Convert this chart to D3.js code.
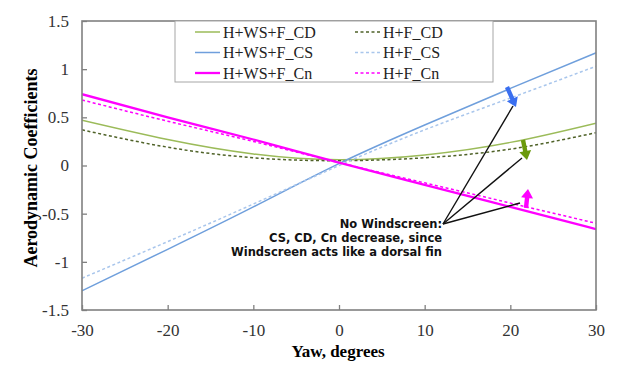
<!DOCTYPE html>
<html>
<head>
<meta charset="utf-8">
<script src="https://cdn.jsdelivr.net/npm/d3@7"></script>
<style>
  html, body { margin: 0; padding: 0; background: #fff; }
  svg { display: block; }
  .serif { font-family: "Liberation Serif", "Times New Roman", serif; }
</style>
</head>
<body>
<svg id="chart" width="617" height="367"></svg>
<script>
// Yaw angles (degrees) at which the coefficients were evaluated
const yaw = [-30, -20, -10, 0, 10, 20, 30];

// Drag coefficient
const cdWithScreen = [0.47, 0.27, 0.12, 0.06, 0.11, 0.24, 0.44];
const cdNoScreen   = [0.37, 0.19, 0.08, 0.05, 0.08, 0.17, 0.34];
// Side-force coefficient
const csWithScreen = [-1.30, -0.87, -0.43, 0.02, 0.42, 0.80, 1.17];
const csNoScreen   = [-1.17, -0.79, -0.40, 0.00, 0.37, 0.70, 1.03];
// Yawing-moment coefficient
const cnWithScreen = [0.74, 0.50, 0.27, 0.03, -0.20, -0.43, -0.66];
const cnNoScreen   = [0.68, 0.46, 0.25, 0.03, -0.18, -0.39, -0.60];

const seriesNames = ["H+WS+F_CD", "H+F_CD", "H+WS+F_CS", "H+F_CS", "H+WS+F_Cn", "H+F_Cn"];
const xTicks = [-30, -20, -10, 0, 10, 20, 30];
const yTicks = [-1.5, -1, -0.5, 0, 0.5, 1, 1.5];
const noteLines = ["No Windscreen:", "CS, CD, Cn decrease, since", "Windscreen acts like a dorsal fin"];

const series = [
  { name: seriesNames[0], values: cdWithScreen, color: "#9bbb59", width: 1.5, dash: null },
  { name: seriesNames[1], values: cdNoScreen,   color: "#4f6228", width: 1.5, dash: "3,2.5" },
  { name: seriesNames[2], values: csWithScreen, color: "#6f9fdc", width: 1.5, dash: null },
  { name: seriesNames[3], values: csNoScreen,   color: "#a9c6ec", width: 1.5, dash: "3,2.5" },
  { name: seriesNames[4], values: cnWithScreen, color: "#ff00ff", width: 2.3, dash: null },
  { name: seriesNames[5], values: cnNoScreen,   color: "#ff00ff", width: 1.5, dash: "3,2.5" }
];

const svg = d3.select("#chart");
const plot = { left: 82, right: 596, top: 21, bottom: 310 };

const x = d3.scaleLinear().domain([-30, 30]).range([plot.left, plot.right]);
const y = d3.scaleLinear().domain([-1.5, 1.5]).range([plot.bottom, plot.top]);

svg.append("clipPath").attr("id", "plotClip")
  .append("rect")
  .attr("x", plot.left).attr("y", plot.top)
  .attr("width", plot.right - plot.left).attr("height", plot.bottom - plot.top);

// Curves
const line = d3.line()
  .x((d, i) => x(yaw[i]))
  .y(d => y(d))
  .curve(d3.curveNatural);

const curves = svg.append("g").attr("clip-path", "url(#plotClip)");
series.forEach(s => {
  curves.append("path")
    .attr("d", line(s.values))
    .attr("fill", "none")
    .attr("stroke", s.color)
    .attr("stroke-width", s.width)
    .attr("stroke-dasharray", s.dash);
});

// Axes with inward ticks; labels use a plain hyphen for negatives
const serifFont = "Liberation Serif, Times New Roman, serif";
const xAxis = svg.append("g")
  .attr("transform", `translate(0,${plot.bottom})`)
  .call(d3.axisBottom(x).tickValues(xTicks).tickSizeInner(-5).tickSizeOuter(0).tickPadding(14)
    .tickFormat(d => String(d)));
const yAxis = svg.append("g")
  .attr("transform", `translate(${plot.left},0)`)
  .call(d3.axisLeft(y).tickValues(yTicks).tickSizeInner(-5).tickSizeOuter(0).tickPadding(13)
    .tickFormat(d => String(d)));

[xAxis, yAxis].forEach(a => {
  a.attr("font-family", serifFont).attr("font-size", 17);
  a.select(".domain").remove();
  a.selectAll(".tick line").attr("stroke", "#808080").attr("stroke-width", 1.3);
  a.selectAll(".tick text")
    .attr("class", "serif")
    .attr("fill", "#333")
    .attr("font-family", serifFont)
    .attr("font-size", 17);
});

// Plot frame
svg.append("rect")
  .attr("x", plot.left).attr("y", plot.top)
  .attr("width", plot.right - plot.left).attr("height", plot.bottom - plot.top)
  .attr("fill", "none")
  .attr("stroke", "#808080")
  .attr("stroke-width", 1.6);

// Legend
const legend = svg.append("g");
legend.append("rect")
  .attr("x", 175).attr("y", plot.top)
  .attr("width", 318).attr("height", 61)
  .attr("fill", "#fff")
  .attr("stroke", "#a6a6a6")
  .attr("stroke-width", 1);

const legendCols = [{ lx: 195, tx: 223 }, { lx: 355, tx: 383 }];
const legendRows = [32, 52.5, 73];
series.forEach((s, i) => {
  const col = legendCols[i % 2];
  const ry = legendRows[Math.floor(i / 2)];
  legend.append("line")
    .attr("x1", col.lx).attr("x2", col.lx + 25)
    .attr("y1", ry).attr("y2", ry)
    .attr("stroke", s.color)
    .attr("stroke-width", s.width)
    .attr("stroke-dasharray", s.dash);
  legend.append("text")
    .attr("class", "serif")
    .attr("x", col.tx).attr("y", ry)
    .attr("dy", "0.35em")
    .attr("font-size", 16)
    .attr("fill", "#222")
    .text(s.name);
});

// Axis titles
svg.append("text")
  .attr("class", "serif")
  .attr("x", (plot.left + plot.right) / 2 - 1)
  .attr("y", 357)
  .attr("text-anchor", "middle")
  .attr("font-size", 17)
  .attr("font-weight", "bold")
  .text("Yaw, degrees");

svg.append("text")
  .attr("class", "serif")
  .attr("transform", "translate(37,168) rotate(-90)")
  .attr("text-anchor", "middle")
  .attr("font-size", 18)
  .attr("font-weight", "bold")
  .text("Aerodynamic Coefficients");

// Leader lines from the note to each arrow
const anchor = [443, 224];
const leaderEnds = [[513, 106], [522, 158], [520, 203]];
leaderEnds.forEach(e => {
  svg.append("line")
    .attr("x1", anchor[0]).attr("y1", anchor[1])
    .attr("x2", e[0]).attr("y2", e[1])
    .attr("stroke", "#111")
    .attr("stroke-width", 1.4);
});

// Block arrows showing the change without windscreen
function blockArrow(from, to, color) {
  const dx = to[0] - from[0], dy = to[1] - from[1];
  const len = Math.hypot(dx, dy);
  const ux = dx / len, uy = dy / len, px = -uy, py = ux;
  const headLen = 9, headHalf = 6, shaftHalf = 2.2;
  const bx = to[0] - ux * headLen, by = to[1] - uy * headLen;
  const pts = [
    [from[0] + px * shaftHalf, from[1] + py * shaftHalf],
    [bx + px * shaftHalf, by + py * shaftHalf],
    [bx + px * headHalf, by + py * headHalf],
    to,
    [bx - px * headHalf, by - py * headHalf],
    [bx - px * shaftHalf, by - py * shaftHalf],
    [from[0] - px * shaftHalf, from[1] - py * shaftHalf]
  ];
  svg.append("path")
    .attr("d", "M" + pts.map(p => p.join(",")).join("L") + "Z")
    .attr("fill", color);
}
blockArrow([507, 87], [516, 107], "#3a6ff0");
blockArrow([523, 140], [527, 160], "#6b9a0c");
blockArrow([526, 208], [528, 189], "#ff00ff");

// Note text
const note = svg.append("text")
  .attr("text-anchor", "end")
  .attr("font-family", "DejaVu Sans, sans-serif")
  .attr("font-size", 11.5)
  .attr("font-weight", "bold")
  .attr("fill", "#111");
const noteY = [228, 242, 256];
noteLines.forEach((t, i) => {
  note.append("tspan").attr("x", 442).attr("y", noteY[i]).text(t);
});
</script>
</body>
</html>
